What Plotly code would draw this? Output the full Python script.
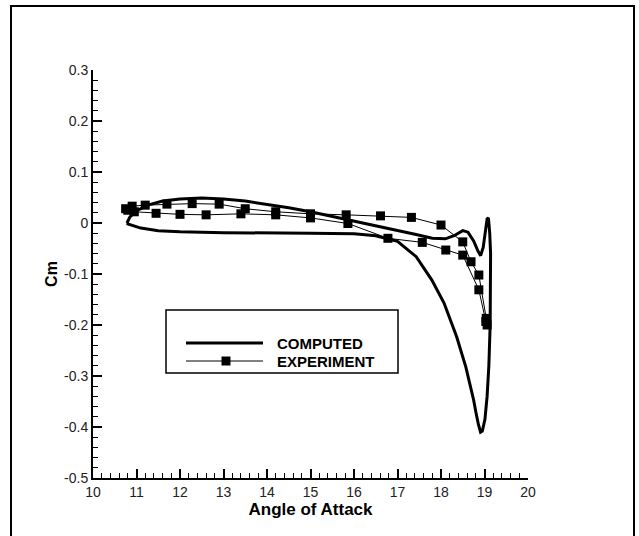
import plotly.graph_objects as go

# ---------------- data ----------------
comp_alpha = [10.78, 10.85, 11.0, 11.3, 11.6, 12.0, 12.5, 13.0, 13.5, 14.0, 14.5, 15.0, 15.5,
              16.0, 16.5, 17.0, 17.4, 17.8, 18.1, 18.3, 18.5, 18.62, 18.75, 18.85, 18.91,
              18.97, 19.02, 19.06, 19.09, 19.12, 19.14, 19.14, 19.13, 19.1, 19.06, 19.01,
              18.95, 18.91, 18.86, 18.8, 18.75, 18.57, 18.36, 18.07, 17.79, 17.43, 17.0,
              16.5, 16.0, 15.0, 14.0, 13.0, 12.0, 11.5, 11.1, 10.9, 10.8, 10.78]
comp_cm = [0.0, 0.012, 0.024, 0.036, 0.043, 0.047, 0.049, 0.047, 0.043, 0.037, 0.030, 0.022, 0.013,
           0.003, -0.006, -0.014, -0.022, -0.030, -0.031, -0.025, -0.015, -0.018, -0.035, -0.055, -0.064,
           -0.048, -0.015, 0.008, 0.010, -0.020, -0.060, -0.120, -0.200, -0.280, -0.340, -0.385,
           -0.408, -0.410, -0.395, -0.370, -0.347, -0.282, -0.223, -0.157, -0.112, -0.066, -0.036,
           -0.025, -0.021, -0.020, -0.020, -0.019, -0.017, -0.015, -0.010, -0.005, -0.002, 0.0]

exp_alpha = [10.75, 10.9, 11.2, 11.7, 12.28, 12.9, 13.5, 14.2, 15.0, 15.82, 16.61, 17.32, 18.0,
             18.5, 18.69, 18.87, 19.04, 19.06, 19.03, 18.87, 18.5, 18.11, 17.57, 16.78, 15.86,
             15.0, 14.2, 13.4, 12.6, 12.0, 11.45, 10.95, 10.8]
exp_cm = [0.028, 0.033, 0.035, 0.037, 0.038, 0.037, 0.028, 0.022, 0.018, 0.016, 0.014, 0.011, -0.004,
          -0.037, -0.076, -0.102, -0.187, -0.200, -0.193, -0.131, -0.063, -0.053, -0.038, -0.030, -0.001,
          0.010, 0.016, 0.018, 0.016, 0.017, 0.019, 0.022, 0.025]

x_ticks = [10, 11, 12, 13, 14, 15, 16, 17, 18, 19, 20]
y_ticks = [0.3, 0.2, 0.1, 0, -0.1, -0.2, -0.3, -0.4, -0.5]
y_tick_text = ["0.3", "0.2", "0.1", "0", "-0.1", "-0.2", "-0.3", "-0.4", "-0.5"]
legend_names = ["COMPUTED", "EXPERIMENT"]

# ---------------- layout geometry ----------------
W, H = 639, 536
L, R, T, B = 93, 528, 70, 478   # plot area in pixels


def px(xp):
    return (xp - L) / (R - L)


def py(yp):
    return (B - yp) / (B - T)


FONT = "Liberation Sans, Arial, sans-serif"

fig = go.Figure()
fig.add_trace(go.Scatter(x=comp_alpha, y=comp_cm, mode="lines",
                         line=dict(color="black", width=3), name=legend_names[0],
                         showlegend=False))
fig.add_trace(go.Scatter(x=exp_alpha, y=exp_cm, mode="lines+markers",
                         line=dict(color="black", width=1),
                         marker=dict(symbol="square", size=9, color="black"),
                         name=legend_names[1], showlegend=False))

axis_common = dict(
    showgrid=False, zeroline=False, showline=True, linecolor="black", linewidth=2,
    ticks="inside", ticklen=9, tickwidth=2, tickcolor="black", mirror=False,
    tickfont=dict(family=FONT, size=14, color="#222"),
)

fig.update_xaxes(range=[10, 20], tickvals=x_ticks, ticktext=[str(v) for v in x_ticks],
                 minor=dict(dtick=0.2, ticks="inside", ticklen=5, tickwidth=1, tickcolor="black"),
                 title=dict(text="<b>Angle of Attack</b>", font=dict(family=FONT, size=17, color="black"),
                            standoff=0),
                 **axis_common)
fig.update_yaxes(range=[-0.5, 0.3], tickvals=y_ticks, ticktext=y_tick_text,
                 minor=dict(dtick=0.02, ticks="inside", ticklen=5, tickwidth=1, tickcolor="black"),
                 title=dict(text="<b>Cm</b>", font=dict(family=FONT, size=16, color="black"),
                            standoff=2),
                 **axis_common)

shapes = []
# outer frame
shapes.append(dict(type="rect", xref="paper", yref="paper", x0=px(11), x1=px(634), y0=py(545), y1=py(6),
                   line=dict(color="black", width=2), fillcolor="rgba(0,0,0,0)", layer="below"))
# legend box
shapes.append(dict(type="rect", xref="paper", yref="paper", x0=px(166), x1=px(398), y0=py(373), y1=py(310),
                   line=dict(color="black", width=1.5), fillcolor="white"))
# legend samples
shapes.append(dict(type="line", xref="paper", yref="paper", x0=px(186), x1=px(263), y0=py(343), y1=py(343),
                   line=dict(color="black", width=3)))
shapes.append(dict(type="line", xref="paper", yref="paper", x0=px(186), x1=px(263), y0=py(361), y1=py(361),
                   line=dict(color="black", width=1)))
shapes.append(dict(type="rect", xref="paper", yref="paper", x0=px(221.5), x1=px(230.5), y0=py(365.5), y1=py(356.5),
                   line=dict(color="black", width=0), fillcolor="black"))

annotations = []
for name, yy in zip(legend_names, [343, 361]):
    annotations.append(dict(text="<b>" + name + "</b>", xref="paper", yref="paper", x=px(275), y=py(yy),
                            xanchor="left", yanchor="middle", showarrow=False,
                            font=dict(family=FONT, size=15, color="black")))

fig.update_layout(
    width=W, height=H, autosize=False,
    margin=dict(l=L, r=W - R, t=T, b=H - B, pad=0),
    paper_bgcolor="white", plot_bgcolor="white",
    shapes=shapes, annotations=annotations, showlegend=False,
)

fig.write_html("out.html")
